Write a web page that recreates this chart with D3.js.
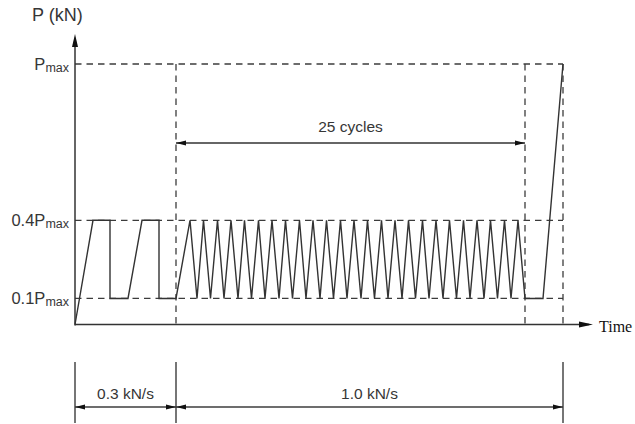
<!DOCTYPE html>
<html><head><meta charset="utf-8">
<script src="https://cdn.jsdelivr.net/npm/d3@7"></script>
<style>
body{margin:0;background:#fff;}
svg{display:block;}
text{font-family:"Liberation Sans",Arial,sans-serif;fill:#363636;}
</style></head>
<body><svg id="c" width="635" height="424"></svg>
<script>
// ---- data (time in arbitrary units, load as fraction of Pmax)
const levelNames = ["0.1", "0.4", ""];           // tick label prefixes
const levelValues = [0.1, 0.4, 1.0];             // load levels (fraction of Pmax)
const preloadTimes  = [0, 18, 35, 35, 53, 67, 84, 84, 101];
const preloadLoads  = [0, 0.4, 0.4, 0.1, 0.1, 0.4, 0.4, 0.1, 0.1];
const cyclePeakTimes   = [115, 128.5, 142.5, 156, 169.5, 183.5, 197, 210.5, 224.5, 238, 251.5, 265.5, 279, 292.5, 306.5, 320, 333.5, 347.5, 361, 374.5, 388.5, 402, 415.5, 429.5, 443];
const cycleTroughTimes = [122, 135.5, 149, 163, 176.5, 190, 204, 217.5, 231, 245, 258.5, 272, 286, 299.5, 313, 327, 340.5, 354, 368, 381.5, 395, 409, 422.5, 436, 450];
const finalTimes = [468, 488];
const finalLoads = [0.1, 1.0];
const markerTimes = [101, 450, 488];             // vertical reference lines
const phaseLabels = ["0.3 kN/s", "1.0 kN/s"];
const phaseBounds = [0, 101, 488];
const cycleLabel = "25 cycles";
const timeMax = 520;

// ---- build load path
const loadData = [];
preloadTimes.forEach((t, i) => loadData.push([t, preloadLoads[i]]));
cyclePeakTimes.forEach((t, i) => { loadData.push([t, 0.4]); loadData.push([cycleTroughTimes[i], 0.1]); });
finalTimes.forEach((t, i) => loadData.push([t, finalLoads[i]]));

const svg = d3.select("#c");
const x = d3.scaleLinear().domain([0, timeMax]).range([75, 595]);
const y = d3.scaleLinear().domain([0, 1]).range([324.5, 64]);
const ink = "#333";

// arrowhead helper: tip at (tx,ty), direction dx,dy
function arrow(tx, ty, dx, dy, len = 11, half = 3) {
  const px = -dy, py = dx;
  const bx = tx - dx * len, by = ty - dy * len;
  svg.append("path")
    .attr("d", `M${tx},${ty}L${bx + px * half},${by + py * half}L${bx - px * half},${by - py * half}Z`)
    .attr("fill", "#111");
}

// dashed reference lines
const dash = "6.5,5";
levelValues.forEach(v => {
  svg.append("line").attr("x1", x(0)).attr("x2", x(markerTimes[2]))
    .attr("y1", y(v)).attr("y2", y(v))
    .attr("stroke", "#3c3c3c").attr("stroke-width", 1.3).attr("stroke-dasharray", dash);
});
markerTimes.forEach(t => {
  svg.append("line").attr("x1", x(t)).attr("x2", x(t))
    .attr("y1", y(1)).attr("y2", y(0))
    .attr("stroke", "#3c3c3c").attr("stroke-width", 1.3).attr("stroke-dasharray", dash);
});

// axes
svg.append("line").attr("x1", x(0)).attr("x2", x(0)).attr("y1", y(0) + 1).attr("y2", 40)
  .attr("stroke", ink).attr("stroke-width", 1.5);
arrow(x(0), 34, 0, -1, 13, 3);
svg.append("line").attr("x1", x(0)).attr("x2", x(timeMax) - 6).attr("y1", y(0)).attr("y2", y(0))
  .attr("stroke", ink).attr("stroke-width", 1.5);
arrow(x(timeMax) - 2, y(0), 1, 0, 14, 3);

// load path
svg.append("path").datum(loadData)
  .attr("d", d3.line().x(d => x(d[0])).y(d => y(d[1])))
  .attr("fill", "none").attr("stroke", "#333").attr("stroke-width", 1.4)
  .attr("stroke-linejoin", "miter");

// axis labels
svg.append("text").attr("x", 32).attr("y", 21).attr("font-size", 18).text("P (kN)");
svg.append("text").attr("x", 599).attr("y", y(0) + 7)
  .style("font-family", "'Liberation Serif','Times New Roman',serif")
  .style("fill", "#111").attr("font-size", 16).text("Time");

levelValues.forEach((v, i) => {
  const t = svg.append("text").attr("x", 69).attr("y", y(v) + 5.5).attr("text-anchor", "end").attr("font-size", 16.5);
  t.append("tspan").text(levelNames[i] + "P");
  t.append("tspan").attr("font-size", 12.5).attr("dy", 2).text("max");
});

// 25 cycles dimension
const cy = 143;
svg.append("line").attr("x1", x(markerTimes[0])).attr("x2", x(markerTimes[1])).attr("y1", cy).attr("y2", cy)
  .attr("stroke", ink).attr("stroke-width", 1.3);
arrow(x(markerTimes[0]), cy, -1, 0, 10, 2.5);
arrow(x(markerTimes[1]), cy, 1, 0, 10, 2.5);
svg.append("text").attr("x", (x(markerTimes[0]) + x(markerTimes[1])) / 2).attr("y", 132)
  .attr("text-anchor", "middle").attr("font-size", 15.5).text(cycleLabel);

// bottom rate dimensions
const by = 407;
phaseBounds.forEach(t => {
  svg.append("line").attr("x1", x(t)).attr("x2", x(t)).attr("y1", 362).attr("y2", 423)
    .attr("stroke", "#3c3c3c").attr("stroke-width", 1.4);
});
svg.append("line").attr("x1", x(phaseBounds[0])).attr("x2", x(phaseBounds[2])).attr("y1", by).attr("y2", by)
  .attr("stroke", "#3c3c3c").attr("stroke-width", 1.3);
for (let i = 0; i < phaseLabels.length; i++) {
  const a = x(phaseBounds[i]), b = x(phaseBounds[i + 1]);
  arrow(a, by, -1, 0, 10, 2.5);
  arrow(b, by, 1, 0, 10, 2.5);
  svg.append("text").attr("x", (a + b) / 2).attr("y", 399)
    .attr("text-anchor", "middle").attr("font-size", 15.5).text(phaseLabels[i]);
}
</script></body></html>
